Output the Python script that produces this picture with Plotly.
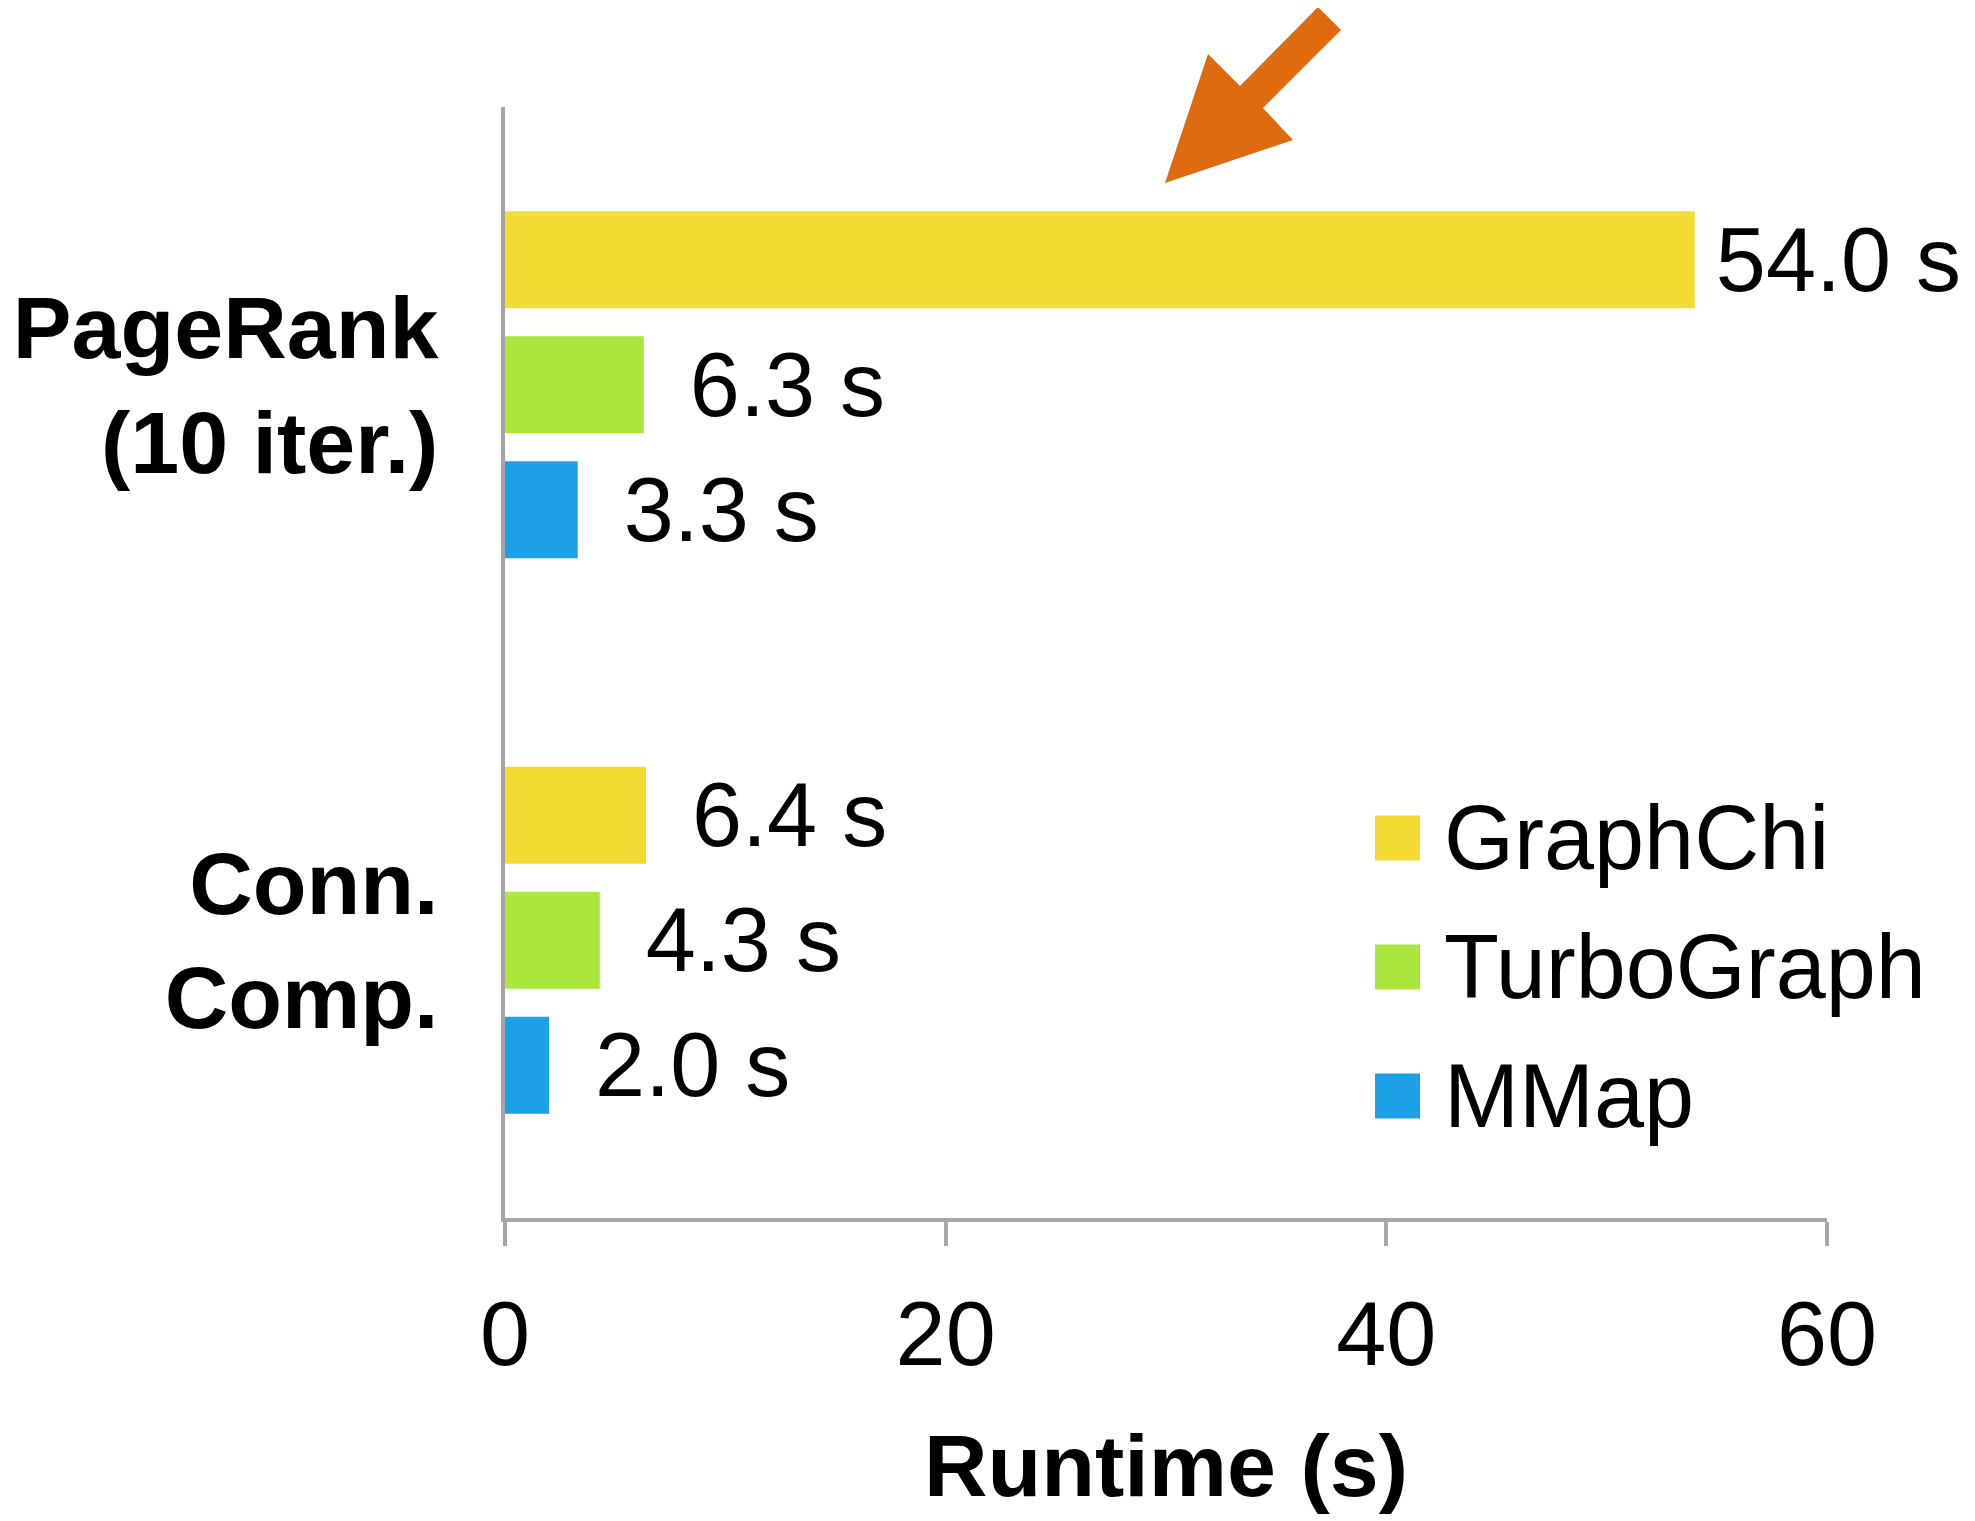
import plotly.graph_objects as go

# ---- data ----
categories = ["PageRank<br>(10 iter.)", "Conn.<br>Comp."]
series_names = ["GraphChi", "TurboGraph", "MMap"]
graphchi = [54.0, 6.4]
turbograph = [6.3, 4.3]
mmap = [3.3, 2.0]
series_values = [graphchi, turbograph, mmap]
colors = ["#F3DB33", "#ABE63C", "#1CA0E6"]
x_ticks = [0, 20, 40, 60]
x_title = "Runtime (s)"

OFF = 8  # page body margin
W, H = 1975, 1521
# plot area in screen pixels
SX0, SX1, SY0, SY1 = 505, 1827, 107, 1218
L, T = SX0 - OFF, SY0 - OFF
R, B = W - (SX1 - OFF), H - (SY1 - OFF)
PW, PH = SX1 - SX0, SY1 - SY0
FONT = "Liberation Sans, Arial, sans-serif"


def px2paper(x, y):
    return (x - SX0) / PW, (SY1 - y) / PH


fig = go.Figure()
for name, vals, col in zip(series_names, series_values, colors):
    texts = [("\u2009" if v > 50 else "\u00a0\u2009") + f"{v:.1f} s" for v in vals]
    fig.add_trace(go.Bar(
        y=categories, x=vals, name=name, orientation="h",
        marker=dict(color=col, line=dict(width=0)),
        text=texts, textposition="outside", constraintext="none",
        textfont=dict(family=FONT, size=90, color="black"),
        cliponaxis=False, showlegend=False, hoverinfo="skip",
    ))

# manual legend with large swatches
leg_x0, leg_y0, leg_dy, sw = 1375, 838, 129, 45
for i, (name, col) in enumerate(zip(series_names, colors)):
    cy = leg_y0 + i * leg_dy
    x0, y0 = px2paper(leg_x0, cy - sw / 2)
    x1, y1 = px2paper(leg_x0 + sw, cy + sw / 2)
    fig.add_shape(type="rect", xref="paper", yref="paper", x0=x0, x1=x1, y0=y1, y1=y0,
                  fillcolor=col, line=dict(width=0))
    tx, ty = px2paper(leg_x0 + sw + 22, cy)
    fig.add_annotation(xref="paper", yref="paper", x=tx, y=ty, text=name, showarrow=False,
                       xanchor="left", yanchor="middle",
                       font=dict(family=FONT, size=90, color="black"))

# orange arrow
pts = [(1165, 183), (1208, 54), (1240, 86), (1318, 7), (1341, 30), (1263, 108), (1293, 140)]
pp = [px2paper(x, y) for x, y in pts]
path = "M " + " L ".join(f"{x:.5f},{y:.5f}" for x, y in pp) + " Z"
fig.add_shape(type="path", xref="paper", yref="paper", path=path,
              fillcolor="#DE6B10", line=dict(width=0))

fig.update_layout(
    width=W, height=H,
    margin=dict(l=L, r=R, t=T, b=B, pad=0, autoexpand=False),
    plot_bgcolor="white", paper_bgcolor="white",
    barmode="group", bargap=0.325, bargroupgap=0.224,
    showlegend=False,
    font=dict(family=FONT, color="black"),
)
fig.update_xaxes(
    range=[0, 60], tickvals=x_ticks, ticktext=[str(t) for t in x_ticks],
    automargin=False,
    showgrid=False, zeroline=False,
    showline=True, linewidth=4, linecolor="#A6A6A6",
    ticks="outside", ticklen=24, tickwidth=4, tickcolor="#A6A6A6",
    tickfont=dict(family=FONT, size=90, color="black"),
    ticklabelstandoff=11,
    title=dict(text=x_title, standoff=52,
               font=dict(family=FONT, size=88, color="black", weight="bold")),
)
fig.update_yaxes(
    type="category", categoryorder="array", categoryarray=categories,
    autorange="reversed", automargin=False,
    showgrid=False, zeroline=False,
    showline=True, linewidth=4, linecolor="#A6A6A6",
    ticks="",
    tickfont=dict(family=FONT, size=88, color="black", weight="bold"),
    ticklabelstandoff=45,
)

fig.write_html("out.html")
